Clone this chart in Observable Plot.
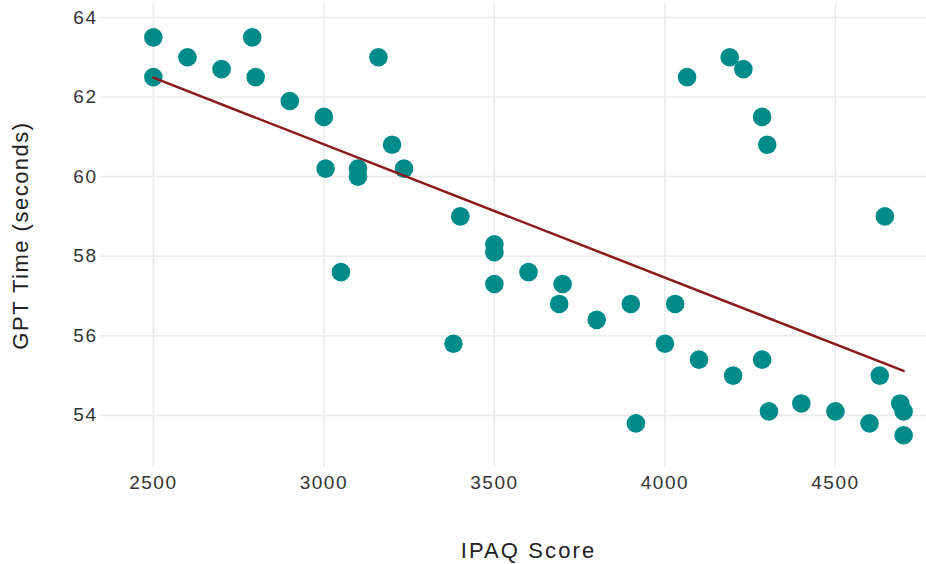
<!DOCTYPE html>
<html>
<head>
<meta charset="utf-8">
<script src="https://cdn.jsdelivr.net/npm/d3@7"></script>
<script src="https://cdn.jsdelivr.net/npm/@observablehq/plot@0.6"></script>
<style>
  html, body { margin: 0; padding: 0; background: #fff; overflow: hidden; width: 926px; height: 564px; }
  #chart { width: 956px; }
  #chart svg { display: block; max-width: none !important; width: 956px; height: 564px; }
</style>
</head>
<body>
<div id="chart"></div>
<script>
// IPAQ score (x) and GPT time in seconds (y)
const ipaq = [2500, 2500, 2600, 2700, 2790, 2800, 2900, 3000, 3005, 3050,
              3100, 3100, 3160, 3200, 3235, 3380, 3400, 3500, 3500, 3500,
              3600, 3690, 3700, 3800, 3900, 3915, 4000, 4030, 4065, 4100,
              4190, 4200, 4230, 4285, 4285, 4300, 4305, 4400, 4500, 4600,
              4630, 4645, 4690, 4700, 4700];
const gpt  = [63.5, 62.5, 63.0, 62.7, 63.5, 62.5, 61.9, 61.5, 60.2, 57.6,
              60.2, 60.0, 63.0, 60.8, 60.2, 55.8, 59.0, 58.3, 58.1, 57.3,
              57.6, 56.8, 57.3, 56.4, 56.8, 53.8, 55.8, 56.8, 62.5, 55.4,
              63.0, 55.0, 62.7, 61.5, 55.4, 60.8, 54.1, 54.3, 54.1, 53.8,
              55.0, 59.0, 54.3, 54.1, 53.5];
const xTicks = [2500, 3000, 3500, 4000, 4500];
const yTicks = [54, 56, 58, 60, 62, 64];

const data = ipaq.map((x, i) => ({x, y: gpt[i]}));

const chart = Plot.plot({
  width: 956,
  height: 564,
  marginLeft: 100,
  marginRight: 0,
  marginTop: 3,
  marginBottom: 97,
  style: {fontFamily: "Liberation Sans, Arial, sans-serif", background: "#fff", maxWidth: "none"},
  x: {domain: [2345, 4855]},
  y: {domain: [52.69, 64.35]},
  marks: [
    Plot.gridX(xTicks, {stroke: "#ebebeb", strokeOpacity: 1, strokeWidth: 1.6}),
    Plot.gridY(yTicks, {stroke: "#ebebeb", strokeOpacity: 1, strokeWidth: 1.6}),
    Plot.axisX(xTicks, {
      tickSize: 0, tickPadding: 8, fontSize: 19, fill: "#333",
      tickFormat: d3.format("d"), label: null
    }),
    Plot.axisY(yTicks, {
      tickSize: 0, tickPadding: 3, fontSize: 19, fill: "#333",
      tickFormat: d3.format("d"), label: null
    }),
    Plot.axisX({
      ticks: [], tickSize: 0, label: "IPAQ Score", labelAnchor: "center",
      labelArrow: "none", labelOffset: 90, fontSize: 22, fill: "#222",
      ariaLabel: "x-title"
    }),
    Plot.axisY({
      ticks: [], tickSize: 0, label: "GPT Time (seconds)", labelAnchor: "center",
      labelArrow: "none", labelOffset: 88, fontSize: 22, fill: "#222"
    }),
    Plot.dot(data, {x: "x", y: "y", r: 9.3, fill: "#008B8B", stroke: "none"}),
    Plot.linearRegressionY(data, {x: "x", y: "y", stroke: "#8B1A1A", strokeWidth: 2.5, ci: 0})
  ]
});

chart.querySelectorAll("text").forEach(t => {
  t.style.letterSpacing = t.textContent === "IPAQ Score" ? "2.1px" : "1.5px";
});
document.getElementById("chart").appendChild(chart);
</script>
</body>
</html>
